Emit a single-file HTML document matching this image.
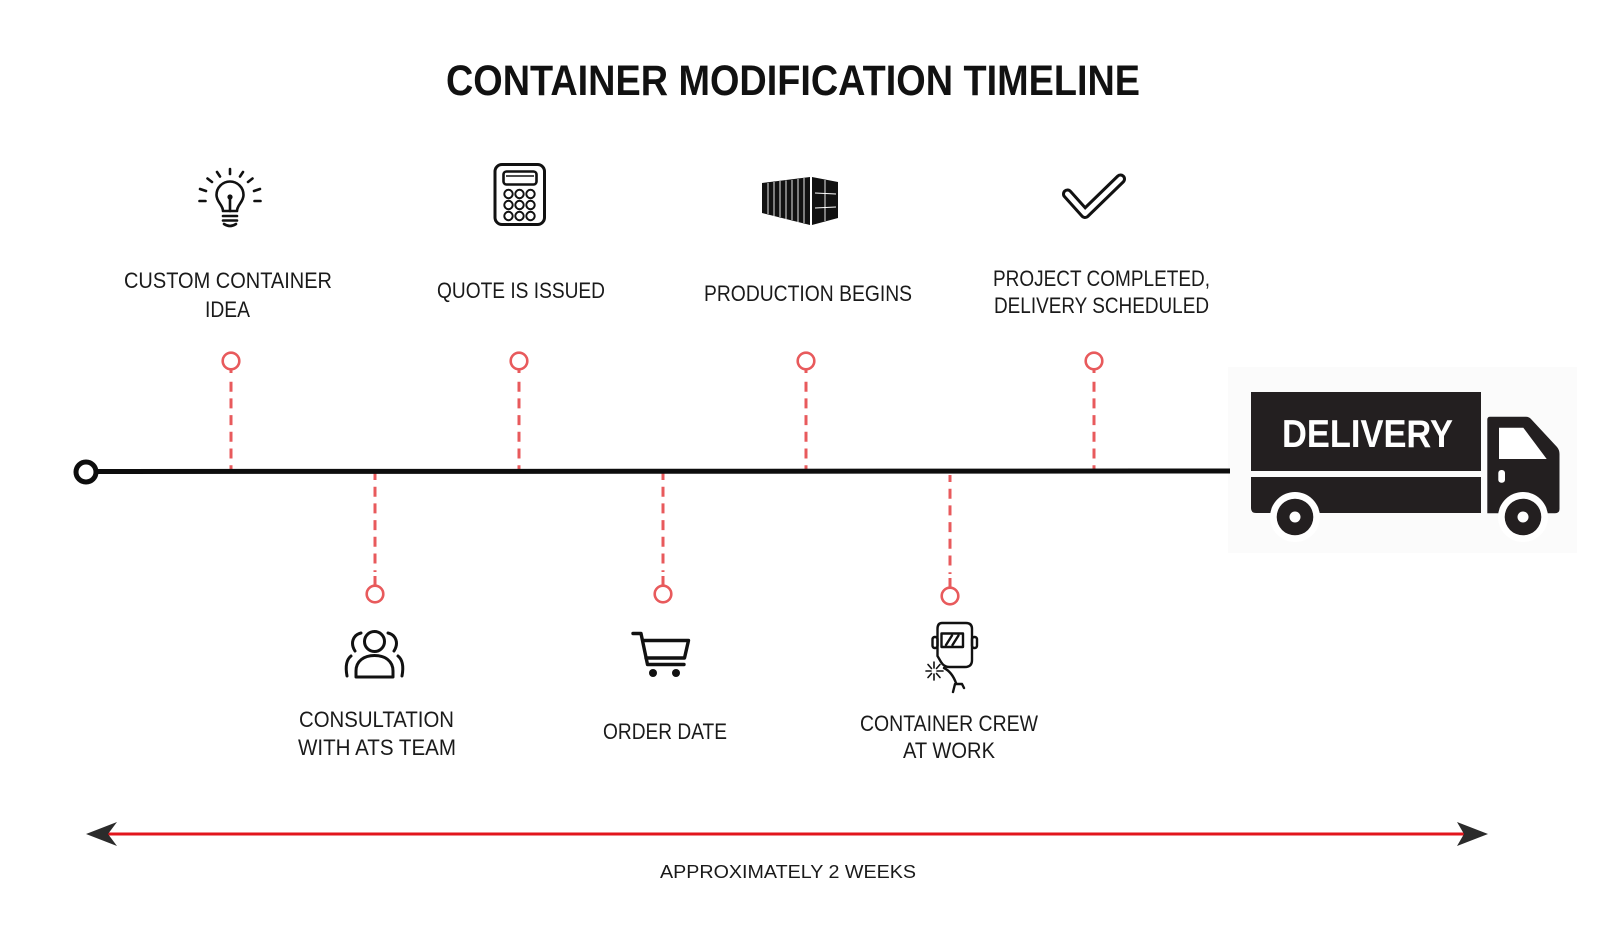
<!DOCTYPE html>
<html>
<head>
<meta charset="utf-8">
<style>
  html, body { margin: 0; padding: 0; background: #ffffff; }
  body { width: 1620px; height: 950px; overflow: hidden; }
  svg { display: block; }
  .lbl { font-family: "Liberation Sans", Arial, sans-serif; font-size: 22px; fill: #1a1a1a; }
</style>
</head>
<body>
<svg width="1620" height="950" viewBox="0 0 1620 950" xmlns="http://www.w3.org/2000/svg">
  <rect x="0" y="0" width="1620" height="950" fill="#ffffff"/>
  <rect x="1228" y="367" width="349" height="186" fill="#fbfbfb"/>

  <!-- Title -->
  <text x="446" y="95" font-family="Liberation Sans, Arial, sans-serif" font-weight="bold" font-size="43" fill="#111" textLength="694" lengthAdjust="spacingAndGlyphs">CONTAINER MODIFICATION TIMELINE</text>

  <!-- ICONS TOP -->
  <!-- Bulb -->
  <g stroke="#111" stroke-width="2.6" fill="none" stroke-linecap="round" stroke-linejoin="round">
    <path d="M223 211 C223 205 216.5 202 216.5 195 A13.5 13.5 0 1 1 243.5 195 C243.5 202 237 205 237 211 Z"/>
    <line x1="223" y1="216" x2="237" y2="216"/>
    <line x1="223" y1="220.5" x2="237" y2="220.5"/>
    <path d="M224 224 Q230 228 236 224"/>
    <line x1="230" y1="197" x2="230" y2="211"/>
    <line x1="230" y1="169" x2="230" y2="174"/>
    <line x1="217" y1="172" x2="220" y2="176.5"/>
    <line x1="243" y1="172" x2="240" y2="176.5"/>
    <line x1="207.5" y1="178.5" x2="212" y2="182"/>
    <line x1="252.5" y1="178.5" x2="248" y2="182"/>
    <line x1="200" y1="189" x2="206" y2="191"/>
    <line x1="260" y1="189" x2="254" y2="191"/>
    <line x1="199.5" y1="201" x2="205.5" y2="201"/>
    <line x1="260.5" y1="201" x2="254.5" y2="201"/>
  </g>
  <circle cx="230" cy="197" r="2.6" fill="#111"/>

  <!-- Calculator -->
  <g stroke="#111" fill="none">
    <rect x="495" y="164.5" width="49.5" height="60" rx="7" stroke-width="3"/>
    <rect x="503.5" y="171.5" width="33" height="13" rx="3" stroke-width="2.6"/>
    <line x1="506" y1="176" x2="534" y2="176" stroke-width="1.5"/>
    <g stroke-width="2">
      <circle cx="508.5" cy="194" r="4.2"/><circle cx="519.5" cy="194" r="4.2"/><circle cx="530.5" cy="194" r="4.2"/>
      <circle cx="508.5" cy="205" r="4.2"/><circle cx="519.5" cy="205" r="4.2"/><circle cx="530.5" cy="205" r="4.2"/>
      <circle cx="508.5" cy="216" r="4.2"/><circle cx="519.5" cy="216" r="4.2"/><circle cx="530.5" cy="216" r="4.2"/>
    </g>
  </g>

  <!-- Container -->
  <g>
    <polygon points="762,183 810,177 810,225 762,213" fill="#111"/>
    <polygon points="812,177 838,182 838,218 812,225" fill="#111"/>
    <g stroke="#fff" stroke-width="0.9">
      <line x1="768" y1="183" x2="768" y2="214"/>
      <line x1="774" y1="182" x2="774" y2="216"/>
      <line x1="780" y1="181" x2="780" y2="217"/>
      <line x1="786" y1="180.5" x2="786" y2="219"/>
      <line x1="792" y1="180" x2="792" y2="220"/>
      <line x1="798" y1="179" x2="798" y2="222"/>
      <line x1="804" y1="178" x2="804" y2="223"/>
      <line x1="825" y1="180" x2="825" y2="221"/>
      <line x1="815" y1="193" x2="836" y2="194"/>
      <line x1="815" y1="208" x2="836" y2="207"/>
      <line x1="811" y1="177" x2="811" y2="225" stroke-width="1.2"/>
    </g>
  </g>

  <!-- Checkmark -->
  <path d="M1067.5 194 L1085 213.5 L1120.5 179" fill="none" stroke="#111" stroke-width="11" stroke-linecap="round" stroke-linejoin="round"/>
  <path d="M1067.5 194 L1085 213.5 L1120.5 179" fill="none" stroke="#fff" stroke-width="5" stroke-linecap="round" stroke-linejoin="round"/>

  <!-- TOP LABELS -->
  <text class="lbl" x="124" y="288" textLength="208" lengthAdjust="spacingAndGlyphs">CUSTOM CONTAINER</text>
  <text class="lbl" x="205" y="317" textLength="45" lengthAdjust="spacingAndGlyphs">IDEA</text>
  <text class="lbl" x="437" y="298" textLength="168" lengthAdjust="spacingAndGlyphs">QUOTE IS ISSUED</text>
  <text class="lbl" x="704" y="301" textLength="208" lengthAdjust="spacingAndGlyphs">PRODUCTION BEGINS</text>
  <text class="lbl" x="993" y="286" textLength="217" lengthAdjust="spacingAndGlyphs">PROJECT COMPLETED,</text>
  <text class="lbl" x="994" y="313" textLength="215" lengthAdjust="spacingAndGlyphs">DELIVERY SCHEDULED</text>

  <!-- CONNECTORS -->
  <g stroke="#e85a5c" fill="none">
    <!-- top -->
    <g stroke-width="2.6">
      <circle cx="231" cy="361" r="8.3" fill="#fff"/>
      <circle cx="519" cy="361" r="8.3" fill="#fff"/>
      <circle cx="806" cy="361" r="8.3" fill="#fff"/>
      <circle cx="1094" cy="361" r="8.3" fill="#fff"/>
      <circle cx="375" cy="594" r="8.3" fill="#fff"/>
      <circle cx="663" cy="594" r="8.3" fill="#fff"/>
      <circle cx="950" cy="596" r="8.3" fill="#fff"/>
    </g>
    <g stroke-width="3">
      <line x1="231" y1="369" x2="231" y2="373"/>
      <line x1="519" y1="369" x2="519" y2="373"/>
      <line x1="806" y1="369" x2="806" y2="373"/>
      <line x1="1094" y1="369" x2="1094" y2="373"/>
      <g stroke-dasharray="10 6.7">
        <line x1="231" y1="381.7" x2="231" y2="472"/>
        <line x1="519" y1="381.7" x2="519" y2="472"/>
        <line x1="806" y1="381.7" x2="806" y2="472"/>
        <line x1="1094" y1="381.7" x2="1094" y2="472"/>
      </g>
      <g stroke-dasharray="10 6.7" stroke-dashoffset="3">
        <line x1="375" y1="473" x2="375" y2="572"/>
        <line x1="663" y1="473" x2="663" y2="572"/>
        <line x1="950" y1="475" x2="950" y2="574"/>
      </g>
      <line x1="375" y1="576" x2="375" y2="586"/>
      <line x1="663" y1="576" x2="663" y2="586"/>
      <line x1="950" y1="578" x2="950" y2="588"/>
    </g>
  </g>

  <!-- Timeline -->
  <line x1="90" y1="471.5" x2="1230" y2="471" stroke="#0d0d0d" stroke-width="5"/>
  <circle cx="86" cy="472" r="10" fill="#fff" stroke="#0d0d0d" stroke-width="5"/>

  <!-- ICONS BOTTOM -->
  <!-- People -->
  <g stroke="#111" stroke-width="3" fill="none" stroke-linecap="round" stroke-linejoin="round">
    <circle cx="374.5" cy="641.5" r="10"/>
    <path d="M356 677 L356 671 C356 661 364 655.5 374.5 655.5 C385 655.5 393 661 393 671 L393 677 Z"/>
    <path d="M361 633 C353 635 350 643 355 651"/>
    <path d="M351 656 C346 660 345.5 668 347 676"/>
    <path d="M388 633 C396 635 399 643 394 651"/>
    <path d="M398 656 C403 660 403.5 668 402 676"/>
  </g>

  <!-- Cart -->
  <g stroke="#111" stroke-width="3.4" fill="none" stroke-linecap="round" stroke-linejoin="round">
    <path d="M633 633.5 L641 633.5 L647.5 664.5 L684 664.5"/>
    <path d="M643 640.5 L688.5 640.5 L684.5 658 L646 658"/>
  </g>
  <circle cx="653" cy="673" r="4" fill="#111"/>
  <circle cx="676" cy="673" r="4" fill="#111"/>

  <!-- Welder -->
  <g stroke="#111" stroke-width="2.4" fill="none" stroke-linecap="round" stroke-linejoin="round">
    <path d="M942 623 L966 623 Q972 623 972 629 L972 660 Q972 667 965 667 L949 667 Q944 667 941 662 L937.5 656 L937.5 629 Q937.5 623 942 623 Z"/>
    <rect x="932.5" y="637" width="5" height="11" rx="2.2"/>
    <rect x="972" y="637" width="5" height="11" rx="2.2"/>
    <rect x="941.5" y="633.5" width="21.5" height="13.5"/>
    <line x1="946" y1="645" x2="952" y2="635.5"/>
    <line x1="952.5" y1="645" x2="958.5" y2="635.5"/>
    <path d="M944 668 Q952 672 956 683"/>
    <path d="M953 692 L955 684 L962 684 L964 688"/>
  </g>
  <g stroke="#111" stroke-width="1.6" stroke-linecap="round">
    <line x1="937" y1="671" x2="943" y2="671"/>
    <line x1="931" y1="671" x2="926" y2="671"/>
    <line x1="934" y1="668" x2="934" y2="662"/>
    <line x1="934" y1="674" x2="934" y2="680"/>
    <line x1="936.5" y1="668.5" x2="940" y2="664.5"/>
    <line x1="931.5" y1="668.5" x2="928" y2="664.5"/>
    <line x1="931.5" y1="673.5" x2="928" y2="677.5"/>
    <line x1="936.5" y1="673.5" x2="940" y2="677.5"/>
  </g>

  <!-- BOTTOM LABELS -->
  <text class="lbl" x="299" y="727" textLength="155" lengthAdjust="spacingAndGlyphs">CONSULTATION</text>
  <text class="lbl" x="298" y="755" textLength="158" lengthAdjust="spacingAndGlyphs">WITH ATS TEAM</text>
  <text class="lbl" x="603" y="739" textLength="124" lengthAdjust="spacingAndGlyphs">ORDER DATE</text>
  <text class="lbl" x="860" y="731" textLength="178" lengthAdjust="spacingAndGlyphs">CONTAINER CREW</text>
  <text class="lbl" x="903" y="758" textLength="92" lengthAdjust="spacingAndGlyphs">AT WORK</text>

  <!-- TRUCK -->
  <g fill="#231f20">
    <rect x="1251" y="392" width="230" height="79"/>
    <path d="M1251 477 L1481 477 L1481 513 L1256 513 Q1251 513 1251 508 Z"/>
    <path d="M1490 416.7 L1526 416.7 Q1529 416.7 1531 419 L1557 447 Q1559.5 450 1559.5 454 L1559.5 509 Q1559.5 513.3 1555 513.3 L1487.3 513.3 L1487.3 419.5 Q1487.3 416.7 1490 416.7 Z"/>
  </g>
  <path d="M1499 427.7 L1523.3 427.7 L1546.7 459 L1499 459 Z" fill="#fff"/>
  <rect x="1498.3" y="470" width="6.7" height="12.7" rx="3" fill="#fff"/>
  <circle cx="1295" cy="517" r="25" fill="#fff"/>
  <circle cx="1295" cy="517" r="18.3" fill="#231f20"/>
  <circle cx="1295" cy="517" r="5.5" fill="#fff"/>
  <circle cx="1523" cy="517" r="25" fill="#fff"/>
  <circle cx="1523" cy="517" r="18.3" fill="#231f20"/>
  <circle cx="1523" cy="517" r="5.5" fill="#fff"/>
  <text x="1282" y="447" font-family="Liberation Sans, Arial, sans-serif" font-weight="bold" font-size="39" fill="#fff" textLength="171" lengthAdjust="spacingAndGlyphs">DELIVERY</text>

  <!-- DURATION ARROW -->
  <line x1="108" y1="834" x2="1464" y2="834" stroke="#e2161c" stroke-width="3"/>
  <polygon points="86,834 117,822 108,834 117,846" fill="#2b2b2b"/>
  <polygon points="1488,834 1457,822 1464,834 1457,846" fill="#2b2b2b"/>
  <text x="660" y="878" font-family="Liberation Sans, Arial, sans-serif" font-size="18.5" fill="#1a1a1a" textLength="256" lengthAdjust="spacingAndGlyphs">APPROXIMATELY 2 WEEKS</text>
</svg>
</body>
</html>
